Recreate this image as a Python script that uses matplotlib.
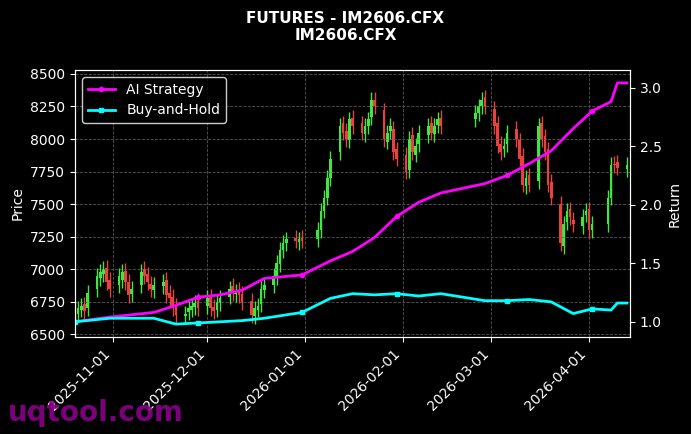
import matplotlib
matplotlib.use("Agg")
import matplotlib.pyplot as plt
import matplotlib.dates as mdates
import pandas as pd
import numpy as np

holidays = ["2026-01-01", "2026-01-02", "2026-02-16", "2026-02-17", "2026-02-18",
            "2026-02-19", "2026-02-20", "2026-02-23", "2026-04-03", "2026-04-06"]
dates = [d for d in pd.bdate_range("2025-10-20", "2026-04-13") if d.strftime("%Y-%m-%d") not in holidays]

closes = [6650, 6700, 6720, 6680, 6820,  6950, 6980, 7000, 6900, 6850,
          6950, 6980, 6900, 6800, 6850,  6980, 6950, 6900, 6850, 6880,
          6900, 6800, 6780, 6700, 6650,  6660, 6700, 6720, 6740, 6700,
          6780, 6700, 6680, 6750, 6780,  6850, 6820, 6830, 6800, 6750,
          6650, 6700, 6720, 6850, 6880,  6950, 7050, 7150, 7200, 7230,
          7220, 7230, 7220,
          7300, 7450, 7550, 7700, 7850,  8100, 8050, 8000, 8150, 8100,
          8050, 8100, 8150, 8300, 8250,  8000, 8050, 8100, 7900, 7850,
          7750, 8000, 7900, 7950, 8050,  8100, 8050, 8100, 8150, 8100,
          8200, 8250, 8300, 8250,
          8100, 7950, 7900, 7950, 8050,  8000, 7850, 7650, 7700, 7650,
          8100, 8000, 7900, 7650, 7550,  7200, 7350, 7450, 7400, 7350,
          7400, 7450, 7300, 7350,  7550, 7800, 7800, 7780,  7800]
opens = [6700, 6660, 6690, 6730, 6700,  6850, 6930, 6960, 7010, 6920,
         6880, 6920, 6990, 6900, 6810,  6880, 7000, 6960, 6890, 6840,
         6870, 6920, 6820, 6790, 6720,  6640, 6670, 6690, 6710, 6760,
         6720, 6790, 6710, 6690, 6740,  6790, 6870, 6810, 6840, 6810,
         6760, 6640, 6690, 6730, 6840,  6880, 6940, 7040, 7150, 7200,
         7240, 7210, 7240,
         7230, 7300, 7450, 7550, 7700,  7900, 8120, 8060, 7990, 8160,
         8120, 8040, 8100, 8170, 8300,  8220, 7980, 8060, 8080, 7920,
         7880, 7760, 8030, 7880, 7960,  8030, 8120, 8040, 8110, 8160,
         8150, 8200, 8250, 8320,
         8230, 8120, 7960, 7920, 7960,  8080, 7990, 7870, 7640, 7720,
         7680, 8120, 8020, 7920, 7670,  7500, 7180, 7360, 7460, 7380,
         7330, 7420, 7460, 7300,  7350, 7550, 7810, 7820,  7770]

ret_dates = ["2025-10-20", "2025-10-31", "2025-11-14", "2025-11-21", "2025-11-28", "2025-12-05",
             "2025-12-12", "2025-12-19", "2025-12-31", "2026-01-09", "2026-01-16", "2026-01-23",
             "2026-01-30", "2026-02-06", "2026-02-13", "2026-02-27", "2026-03-06", "2026-03-13",
             "2026-03-20", "2026-03-27", "2026-04-02", "2026-04-08", "2026-04-10", "2026-04-13"]
strategy = [1.00, 1.04, 1.08, 1.14, 1.21, 1.23, 1.27, 1.37, 1.40, 1.52, 1.60, 1.72,
            1.90, 2.02, 2.10, 2.18, 2.25, 2.35, 2.46, 2.65, 2.80, 2.88, 3.04, 3.04]
buyhold = [1.00, 1.03, 1.03, 0.98, 0.99, 1.00, 1.01, 1.03, 1.08, 1.20, 1.24, 1.23,
           1.24, 1.22, 1.24, 1.18, 1.18, 1.19, 1.17, 1.07, 1.11, 1.10, 1.16, 1.16]

fig = plt.figure(figsize=(6.91, 4.34), dpi=100, facecolor="black")
ax = fig.add_axes([75/691, 1-337/434, 555/691, 267/434], facecolor="black")
ax2 = ax.twinx()

xd = mdates.date2num(dates)
for x, o, c in zip(xd, opens, closes):
    col = "#3ee83e" if c >= o else "#e8413e"
    hi = max(o, c) + 60
    lo = min(o, c) - 60
    ax.vlines(x, lo, hi, color=col, lw=1.0)
    ax.bar(x, abs(c - o) if c != o else 10, bottom=min(o, c), width=0.85, color=col)

rd = pd.to_datetime(ret_dates)
ax2.plot(rd, strategy, color="#ff00ff", lw=2, marker="o", ms=3, markevery=4, label="AI Strategy")
ax2.plot(rd, buyhold, color="#00ffff", lw=2, marker="s", ms=3, markevery=4, label="Buy-and-Hold")

ax.set_xlim(mdates.date2num(pd.Timestamp("2025-10-20")), mdates.date2num(pd.Timestamp("2026-04-14")))
ax.set_ylim(6480, 8530)
ax2.set_ylim(0.87, 3.15)
ax.set_yticks([6500, 6750, 7000, 7250, 7500, 7750, 8000, 8250, 8500])
ax2.set_yticks([1.0, 1.5, 2.0, 2.5, 3.0])
ax.xaxis.set_major_locator(mdates.MonthLocator())
ax.xaxis.set_major_formatter(mdates.DateFormatter("%Y-%m-%d"))
plt.setp(ax.get_xticklabels(), rotation=45, ha="right")
ax.grid(True, color="#555555", ls="--", lw=0.6)

for a in (ax, ax2):
    a.tick_params(colors="white", labelsize=10)
    for s in a.spines.values():
        s.set_color("white")
ax.set_ylabel("Price", color="white")
ax2.set_ylabel("Return", color="white")

leg = ax2.legend(loc="upper left", facecolor="black", edgecolor="white", fontsize=10)
for t in leg.get_texts():
    t.set_color("white")

fig.suptitle("FUTURES - IM2606.CFX\nIM2606.CFX", color="white", fontweight="bold", fontsize=11, y=0.975)
fig.text(0.012, 0.03, "uqtool.com", color="#8b008b", fontsize=20, fontweight="bold", alpha=0.9)

fig.savefig("out.png", dpi=100, facecolor="black")
